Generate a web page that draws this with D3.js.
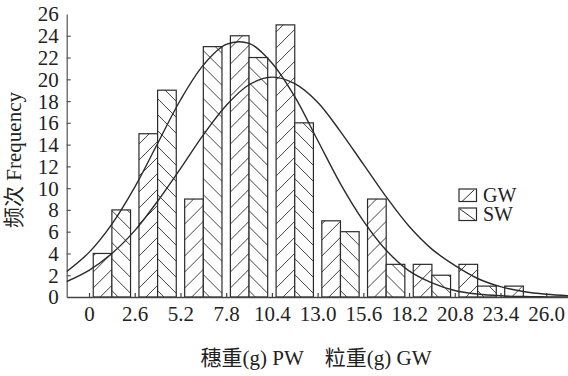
<!DOCTYPE html>
<html>
<head>
<meta charset="utf-8">
<script src="https://cdn.jsdelivr.net/npm/d3@7"></script>
<style>
  html, body { margin: 0; padding: 0; background: #fff; }
  svg { display: block; font-family: "Liberation Serif", "Times New Roman", "Noto Sans CJK SC", serif; }
  svg text { font-family: "Liberation Serif", "Times New Roman", "Noto Sans CJK SC", serif !important; }
</style>
</head>
<body>
<div id="chart"></div>
<script>
// histogram bins (start of each 2.6 g class) and counts
var binStarts = [0, 2.6, 5.2, 7.8, 10.4, 13.0, 15.6, 18.2, 20.8, 23.4];
var gwCounts = [4, 15, 9, 24, 25, 7, 9, 3, 3, 1];
var swCounts = [8, 19, 23, 22, 16, 6, 3, 2, 1, 0];
var seriesNames = ["GW", "SW"];

var xTicks = [0, 2.6, 5.2, 7.8, 10.4, 13.0, 15.6, 18.2, 20.8, 23.4, 26.0];
var xTickLabels = ["0", "2.6", "5.2", "7.8", "10.4", "13.0", "15.6", "18.2", "20.8", "23.4", "26.0"];
var yTicks = [0, 2, 4, 6, 8, 10, 12, 14, 16, 18, 20, 22, 24, 26];

// fitted curves
var curveX = [-1.3, 0, 1.3, 2.6, 3.9, 5.2, 6.5, 7.8, 9.1, 10.4, 11.7, 13.0, 14.3,
  15.6, 16.9, 18.2, 19.5, 20.8, 22.1, 23.4, 24.7, 26.0, 27.3];
var gwFit = [1.4, 2.45, 4.0, 6.1, 8.8, 11.8, 14.9, 17.6, 19.5, 20.2, 19.6, 17.9, 15.2,
  12.2, 9.2, 6.5, 4.4, 2.9, 1.7, 0.95, 0.5, 0.25, 0.12];
var swFit = [2.3, 4.1, 6.7, 10.1, 14.1, 18.1, 21.3, 23.2, 23.3, 21.5, 18.4, 14.4, 10.4,
  7.0, 4.3, 2.4, 1.3, 0.6, 0.27, 0.11, 0.04, 0.015, 0.005];

var W = 568, H = 376;
var ink = "#2b2b2b";

var svg = d3.select("#chart").append("svg")
  .attr("width", W)
  .attr("height", H);

var x = d3.scaleLinear().domain([-1.27, 27.24]).range([66.7, 568]);
var y = d3.scaleLinear().domain([0, 26]).range([297, 14]);

// hatch patterns
var defs = svg.append("defs");
function hatch(id, dir) {
  var s = 16;
  var p = defs.append("pattern")
    .attr("id", id)
    .attr("patternUnits", "userSpaceOnUse")
    .attr("width", s)
    .attr("height", s);
  p.append("rect").attr("width", s).attr("height", s).attr("fill", "#fff");
  var segs = dir > 0
    ? [[-1, s + 1, s + 1, -1], [-s / 2 - 1, s / 2 + 1, s / 2 + 1, -s / 2 - 1], [s / 2 - 1, s * 1.5 + 1, s * 1.5 + 1, s / 2 - 1]]
    : [[-1, -1, s + 1, s + 1], [-s / 2 - 1, s / 2 - 1, s / 2 + 1, s * 1.5 + 1], [s / 2 - 1, -s / 2 - 1, s * 1.5 + 1, s / 2 + 1]];
  segs.forEach(function(d) {
    p.append("line")
      .attr("x1", d[0]).attr("y1", d[1]).attr("x2", d[2]).attr("y2", d[3])
      .attr("stroke", ink).attr("stroke-width", 0.9);
  });
}
hatch("hatch-gw", 1);
hatch("hatch-sw", -1);

defs.append("clipPath").attr("id", "plot-clip")
  .append("rect")
  .attr("x", x.range()[0]).attr("y", 0)
  .attr("width", x.range()[1] - x.range()[0])
  .attr("height", y(0));

// bars
var band = d3.scaleBand()
  .domain(binStarts)
  .range([x(0), x(26)])
  .paddingInner(0.184)
  .paddingOuter(0.092);
var sub = d3.scaleBand()
  .domain(seriesNames)
  .range([0, band.bandwidth()]);

var rows = binStarts.map(function(b, i) {
  return {bin: b, values: [
    {name: "GW", v: gwCounts[i]},
    {name: "SW", v: swCounts[i]}
  ]};
});

var barLayer = svg.append("g").attr("class", "bars");
var groups = barLayer.selectAll("g.pair")
  .data(rows)
  .enter().append("g")
  .attr("class", "pair")
  .attr("transform", function(d) { return "translate(" + band(d.bin) + ",0)"; });
groups.selectAll("rect")
  .data(function(d) { return d.values.filter(function(v) { return v.v > 0; }); })
  .enter().append("rect")
  .attr("x", function(d) { return sub(d.name); })
  .attr("y", function(d) { return y(d.v); })
  .attr("width", sub.bandwidth())
  .attr("height", function(d) { return y(0) - y(d.v); })
  .attr("fill", function(d) { return d.name === "GW" ? "url(#hatch-gw)" : "url(#hatch-sw)"; })
  .attr("stroke", ink)
  .attr("stroke-width", 1.2);

// axes
var yAxis = d3.axisLeft(y)
  .tickValues(yTicks)
  .tickSizeInner(-4)
  .tickSizeOuter(0)
  .tickPadding(8);
var gy = svg.append("g")
  .attr("transform", "translate(" + x.range()[0] + ",0)")
  .call(yAxis)
  .attr("font-family", null)
  .attr("font-size", 21);
gy.select(".domain").attr("stroke", "#555").attr("stroke-width", 1.2);
gy.selectAll(".tick line").attr("stroke", "#555").attr("stroke-width", 1.2)
  .filter(function(d) { return d === 26 || d === 0; }).remove();
gy.selectAll(".tick text")
  .attr("fill", "#222")
  .attr("dy", "0.33em");

var xAxis = d3.axisBottom(x)
  .tickValues(xTicks)
  .tickFormat(function(d, i) { return xTickLabels[i]; })
  .tickSizeInner(-4)
  .tickSizeOuter(0);
var gx = svg.append("g")
  .attr("transform", "translate(0," + y(0) + ")")
  .call(xAxis)
  .attr("font-family", null)
  .attr("font-size", 21);
gx.select(".domain").attr("stroke", "#444").attr("stroke-width", 1.3);
gx.selectAll(".tick line").attr("stroke", "#444").attr("stroke-width", 1.2);
gx.selectAll(".tick text")
  .attr("fill", "#222")
  .attr("dy", null)
  .attr("y", 24);

// fitted curves
var line = d3.line()
  .x(function(d) { return x(d[0]); })
  .y(function(d) { return y(d[1]); })
  .curve(d3.curveCatmullRom.alpha(0.5));
var curveLayer = svg.append("g").attr("clip-path", "url(#plot-clip)");
[gwFit, swFit].forEach(function(vals) {
  curveLayer.append("path")
    .datum(curveX.map(function(cx, i) { return [cx, vals[i]]; }))
    .attr("d", line)
    .attr("fill", "none")
    .attr("stroke", ink)
    .attr("stroke-width", 1.4);
});

// legend
var legend = svg.append("g").attr("transform", "translate(459,189)");
seriesNames.forEach(function(name, i) {
  var g = legend.append("g").attr("transform", "translate(0," + (i * 19) + ")");
  g.append("rect")
    .attr("width", 17.5).attr("height", 12.5)
    .attr("fill", "#fff").attr("stroke", ink).attr("stroke-width", 1.2);
  g.append("line")
    .attr("x1", i === 0 ? 3 : 1).attr("y1", i === 0 ? 12.5 : 1)
    .attr("x2", i === 0 ? 15 : 16).attr("y2", i === 0 ? 1 : 12)
    .attr("stroke", ink).attr("stroke-width", 1);
  g.append("text")
    .attr("x", 24).attr("y", 12.5)
    .attr("font-size", 20)
    .attr("fill", "#222")
    .text(name);
});

// axis titles
svg.append("text")
  .attr("x", 316).attr("y", 365)
  .attr("text-anchor", "middle")
  .attr("font-size", 21)
  .attr("fill", "#222")
  .text("穗重(g) PW\u2003粒重(g) GW");

svg.append("text")
  .attr("transform", "translate(21,160) rotate(-90)")
  .attr("text-anchor", "middle")
  .attr("font-size", 21)
  .attr("fill", "#222")
  .text("频次 Frequency");
</script>
</body>
</html>
